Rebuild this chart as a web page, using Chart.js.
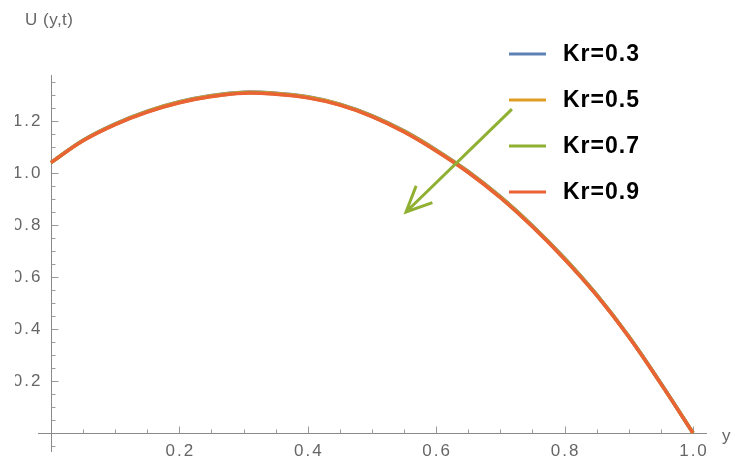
<!DOCTYPE html>
<html>
<head>
<meta charset="utf-8">
<script src="https://cdn.jsdelivr.net/npm/chart.js@4.4.0/dist/chart.umd.min.js"></script>
<style>
  body { margin: 0; background: #fff; }
</style>
</head>
<body>
<canvas id="grafico" width="741" height="462"></canvas>
<script>
// posições y (eixo horizontal) e perfis de velocidade U(y,t)
const yPos = [0, 0.05, 0.1, 0.15, 0.2, 0.25, 0.3, 0.35, 0.4, 0.45, 0.5, 0.55, 0.6, 0.65, 0.7, 0.75, 0.8, 0.85, 0.9, 0.95, 1.0];
const krLabels = ['Kr=0.3', 'Kr=0.5', 'Kr=0.7', 'Kr=0.9'];
const u03 = [1.040, 1.126, 1.189, 1.238, 1.274, 1.298, 1.311, 1.307, 1.293, 1.265, 1.221, 1.162, 1.089, 1.006, 0.909, 0.797, 0.672, 0.532, 0.372, 0.191, 0.000];
const u05 = [1.040, 1.125, 1.188, 1.237, 1.273, 1.297, 1.310, 1.306, 1.292, 1.264, 1.220, 1.161, 1.088, 1.005, 0.908, 0.796, 0.671, 0.531, 0.371, 0.190, 0.000];
const u07 = [1.040, 1.125, 1.187, 1.235, 1.271, 1.295, 1.308, 1.304, 1.290, 1.262, 1.218, 1.159, 1.086, 1.003, 0.906, 0.794, 0.669, 0.530, 0.370, 0.190, 0.000];
const u09 = [1.040, 1.124, 1.186, 1.234, 1.270, 1.294, 1.307, 1.303, 1.289, 1.261, 1.217, 1.158, 1.085, 1.002, 0.905, 0.793, 0.668, 0.529, 0.369, 0.189, 0.000];
const cores = ['#5E81B5', '#E19C24', '#8FB032', '#EB6235'];

// marcas dos eixos
const xTicks = [0.2, 0.4, 0.6, 0.8, 1.0];
const yTicks = [0.2, 0.4, 0.6, 0.8, 1.0, 1.2];

function pontos(valores) {
  return yPos.map((v, i) => ({ x: v, y: valores[i] }));
}

// Função para desenhar os eixos no estilo Mathematica (cruzando na origem)
const eixosPlugin = {
  id: 'eixos',
  beforeDatasetsDraw(chart) {
    const ctx = chart.ctx;
    const sx = chart.scales.x, sy = chart.scales.y;
    const area = chart.chartArea;
    const x0 = Math.round(sx.getPixelForValue(0)) + 0.5;
    const y0 = Math.round(sy.getPixelForValue(0)) + 0.5;
    ctx.save();
    ctx.strokeStyle = '#8a8a8a';
    ctx.lineWidth = 1;
    ctx.beginPath();
    ctx.moveTo(x0, area.top);
    ctx.lineTo(x0, area.bottom);
    ctx.moveTo(area.left, y0);
    ctx.lineTo(area.right, y0);
    ctx.stroke();

    // tracinhos a cada 0.05
    ctx.strokeStyle = '#9a9a9a';
    ctx.beginPath();
    for (let i = 1; i <= 20; i++) {
      const major = i % 4 === 0;
      const px = Math.round(sx.getPixelForValue(i / 20)) + 0.5;
      ctx.moveTo(px, y0);
      ctx.lineTo(px, y0 - (major ? 7 : 4));
    }
    for (let i = -1; i <= 27; i++) {
      if (i === 0) continue;
      const major = i % 4 === 0;
      const py = Math.round(sy.getPixelForValue(i / 20)) + 0.5;
      ctx.moveTo(x0, py);
      ctx.lineTo(x0 + (major ? 7 : 4), py);
    }
    ctx.stroke();

    ctx.fillStyle = '#666';
    ctx.font = '17px "Liberation Sans", Arial, sans-serif';
    ctx.letterSpacing = '2px';
    ctx.textBaseline = 'middle';
    ctx.textAlign = 'center';
    xTicks.forEach(v => {
      ctx.fillText(v.toFixed(1), sx.getPixelForValue(v) + 1, y0 + 18);
    });
    // rótulos do eixo vertical cortados na borda esquerda como na figura original
    ctx.save();
    ctx.beginPath();
    ctx.rect(15, 0, chart.width, chart.height);
    ctx.clip();
    ctx.textAlign = 'right';
    yTicks.forEach(v => {
      ctx.fillText(v.toFixed(1), x0 - 9, sy.getPixelForValue(v));
    });
    ctx.restore();

    ctx.textAlign = 'left';
    ctx.letterSpacing = '0.5px';
    ctx.fillText('U (y,t)', 25, 20);
    ctx.fillText('y', 722, y0 + 3);
    ctx.restore();
  },
  afterDatasetsDraw(chart) {
    const ctx = chart.ctx;
    const sx = chart.scales.x, sy = chart.scales.y;
    ctx.save();
    // seta indicando aumento de Kr
    const ax = sx.getPixelForValue(0.718), ay = sy.getPixelForValue(1.246);
    const bx = sx.getPixelForValue(0.553), by = sy.getPixelForValue(0.850);
    const ang = Math.atan2(ay - by, ax - bx);
    const len = 28, abre = 0.43;
    ctx.strokeStyle = '#8FB032';
    ctx.lineWidth = 3;
    ctx.beginPath();
    ctx.moveTo(ax, ay);
    ctx.lineTo(bx, by);
    ctx.moveTo(bx + len * Math.cos(ang - abre), by + len * Math.sin(ang - abre));
    ctx.lineTo(bx, by);
    ctx.lineTo(bx + len * Math.cos(ang + abre), by + len * Math.sin(ang + abre));
    ctx.stroke();

    // legenda
    ctx.font = 'bold 23px "Liberation Sans", Arial, sans-serif';
    ctx.letterSpacing = '1px';
    ctx.textBaseline = 'middle';
    ctx.textAlign = 'left';
    chart.data.datasets.forEach((ds, i) => {
      const ly = 54 + 46 * i;
      ctx.strokeStyle = ds.borderColor;
      ctx.lineWidth = 3;
      ctx.beginPath();
      ctx.moveTo(509, ly);
      ctx.lineTo(546, ly);
      ctx.stroke();
      ctx.fillStyle = '#000';
      ctx.fillText(ds.label, 563, ly + 1);
    });
    ctx.restore();
  }
};

const ctx = document.getElementById('grafico').getContext('2d');
new Chart(ctx, {
  type: 'line',
  data: {
    datasets: [u03, u05, u07, u09].map((serie, i) => ({
      label: krLabels[i],
      data: pontos(serie),
      borderColor: cores[i],
      borderWidth: 3.5,
      pointRadius: 0,
      fill: false,
      tension: 0.4,
      order: 3 - i // Kr=0.9 desenhado por cima
    }))
  },
  options: {
    responsive: false,
    animation: false,
    devicePixelRatio: 1,
    layout: { padding: { left: 38, right: 34, top: 75, bottom: 10 } },
    plugins: { legend: { display: false }, tooltip: { enabled: false } },
    scales: {
      x: { type: 'linear', min: -0.0202, max: 1.0218, display: false },
      y: { type: 'linear', min: -0.0731, max: 1.377, display: false }
    }
  },
  plugins: [eixosPlugin]
});
</script>
</body>
</html>
